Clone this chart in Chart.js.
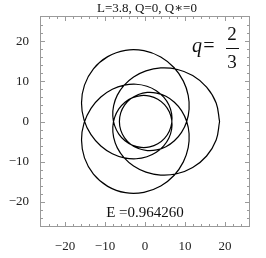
<!DOCTYPE html>
<html>
<head>
<meta charset="utf-8">
<script src="https://cdn.jsdelivr.net/npm/chart.js@4/dist/chart.umd.min.js"></script>
<style>
  html, body { margin: 0; padding: 0; background: #fff; }
  #orbit { display: block; }
</style>
</head>
<body>
<canvas id="orbit" width="266" height="258"></canvas>
<script>
// orbit points (x, y in the plot's units)
const orbitX = [
  18.64, 17.79, 15.40, 11.92, 7.93, 3.91, 0.24, -2.85, -5.25, -6.92, -7.84, -8.05, -7.59, -6.54, -5.00, -3.09, -0.96, 1.19, 3.20,
  4.88, 6.07, 6.69, 6.66, 5.98, 4.68, 2.82, 0.48, -2.22, -5.16, -8.17, -11.04, -13.50, -15.23, -15.87, -15.13, -12.89, -9.32,
  -4.90, -0.27, 3.94, 7.30, 9.59, 10.80, 11.02, 10.41, 9.13, 7.35, 5.23, 2.91, 0.56, -1.66, -3.60, -5.11, -6.07, -6.40,
  -6.07, -5.11, -3.60, -1.66, 0.56, 2.91, 5.23, 7.35, 9.13, 10.41, 11.02, 10.80, 9.59, 7.30, 3.94, -0.27, -4.90, -9.32,
  -12.89, -15.13, -15.87, -15.23, -13.50, -11.04, -8.17, -5.16, -2.22, 0.48, 2.82, 4.68, 5.98, 6.66, 6.69, 6.07, 4.88, 3.20,
  1.19, -0.96, -3.09, -5.00, -6.54, -7.59, -8.05, -7.84, -6.92, -5.25, -2.85, 0.24, 3.91, 7.93, 11.92, 15.40, 17.79, 18.64
];
const orbitY = [
  0, 4.61, 8.58, 11.44, 13.01, 13.33, 12.61, 11.08, 8.99, 6.56, 3.97, 1.39, -1.02, -3.13, -4.81, -5.94, -6.46, -6.32, -5.54,
  -4.19, -2.40, -0.30, 1.93, 4.10, 6.06, 7.66, 8.77, 9.27, 9.04, 8.01, 6.09, 3.28, -0.36, -4.61, -9.05, -13.10, -16.14,
  -17.71, -17.62, -16.05, -13.37, -10.05, -6.51, -3.07, 0.05, 2.71, 4.80, 6.27, 7.08, 7.23, 6.73, 5.64, 4.06, 2.13, 0,
  -2.13, -4.06, -5.64, -6.73, -7.23, -7.08, -6.27, -4.80, -2.71, -0.05, 3.07, 6.51, 10.05, 13.37, 16.05, 17.62, 17.71, 16.14,
  13.10, 9.05, 4.61, 0.36, -3.28, -6.09, -8.01, -9.04, -9.27, -8.77, -7.66, -6.06, -4.10, -1.93, 0.30, 2.40, 4.19, 5.54,
  6.32, 6.46, 5.94, 4.81, 3.13, 1.02, -1.39, -3.97, -6.56, -8.99, -11.08, -12.61, -13.33, -13.01, -11.44, -8.58, -4.61, 0
];

const axisTicks = [-20, -10, 0, 10, 20];
const minorTicks = [-24, -22, -18, -16, -14, -12, -8, -6, -4, -2, 2, 4, 6, 8, 12, 14, 16, 18, 22, 24];

const titleText = "L=3.8, Q=0, Q\u2217=0";
const qLabel = "q=";
const qNum = "2";
const qDen = "3";
const energyText = "E =0.964260";

const serif = "'Liberation Serif', 'DejaVu Serif', serif";

function fmtTick(v) {
  return v < 0 ? "\u2212" + Math.abs(v) : String(v);
}

// frame with inward ticks on all four sides, plus the text labels
const framePlugin = {
  id: "frame",
  afterDraw(chart) {
    const ctx = chart.ctx;
    const a = chart.chartArea;
    const xs = chart.scales.x;
    const ys = chart.scales.y;
    ctx.save();
    ctx.strokeStyle = "#9a9a9a";
    ctx.lineWidth = 1;
    ctx.strokeRect(a.left - 0.5, a.top - 0.5, a.right - a.left + 1, a.bottom - a.top + 1);

    function tick(v, len) {
      const px = Math.round(xs.getPixelForValue(v)) + 0.5;
      const py = Math.round(ys.getPixelForValue(v)) + 0.5;
      ctx.beginPath();
      ctx.moveTo(px, a.bottom); ctx.lineTo(px, a.bottom - len);
      ctx.moveTo(px, a.top); ctx.lineTo(px, a.top + len);
      ctx.moveTo(a.left, py); ctx.lineTo(a.left + len, py);
      ctx.moveTo(a.right, py); ctx.lineTo(a.right - len, py);
      ctx.stroke();
    }
    axisTicks.forEach((v) => tick(v, 4));
    minorTicks.forEach((v) => tick(v, 2));

    ctx.fillStyle = "#111";
    ctx.textBaseline = "alphabetic";
    ctx.textAlign = "center";
    ctx.font = "13px " + serif;
    ctx.fillText(titleText, 147, 12);

    ctx.font = "15px " + serif;
    ctx.fillText(energyText, 145, 217);

    ctx.textAlign = "left";
    ctx.font = "italic 20px " + serif;
    ctx.fillText(qLabel, 192, 52);

    ctx.textAlign = "center";
    ctx.font = "19px " + serif;
    ctx.fillText(qNum, 232, 40);
    ctx.fillText(qDen, 232, 68);
    ctx.strokeStyle = "#111";
    ctx.beginPath();
    ctx.moveTo(226, 48.5);
    ctx.lineTo(239, 48.5);
    ctx.stroke();
    ctx.restore();
  },
};

const chart = new Chart(document.getElementById("orbit").getContext("2d"), {
  type: "scatter",
  data: {
    datasets: [
      {
        data: orbitX.map((x, i) => ({ x: x, y: orbitY[i] })),
        showLine: true,
        borderColor: "#000",
        borderWidth: 1.2,
        pointRadius: 0,
        tension: 0.4,
        fill: false,
      },
    ],
  },
  options: {
    responsive: false,
    animation: false,
    devicePixelRatio: 1,
    layout: { padding: { left: 0, right: 17, top: 17, bottom: 0 } },
    plugins: { legend: { display: false }, tooltip: { enabled: false } },
    scales: {
      x: {
        type: "linear",
        min: -26,
        max: 26,
        grid: { display: false },
        border: { display: false },
        afterBuildTicks: (scale) => { scale.ticks = axisTicks.map((v) => ({ value: v })); },
        afterFit: (scale) => { scale.height = 32; },
        ticks: {
          color: "#222",
          font: { family: serif, size: 13 },
          padding: 5,
          maxRotation: 0,
          callback: fmtTick,
        },
      },
      y: {
        type: "linear",
        min: -26,
        max: 26,
        grid: { display: false },
        border: { display: false },
        afterBuildTicks: (scale) => { scale.ticks = axisTicks.map((v) => ({ value: v })); },
        afterFit: (scale) => { scale.width = 41; },
        ticks: {
          color: "#222",
          font: { family: serif, size: 13 },
          padding: 4,
          callback: fmtTick,
        },
      },
    },
  },
  plugins: [framePlugin],
});
</script>
</body>
</html>
